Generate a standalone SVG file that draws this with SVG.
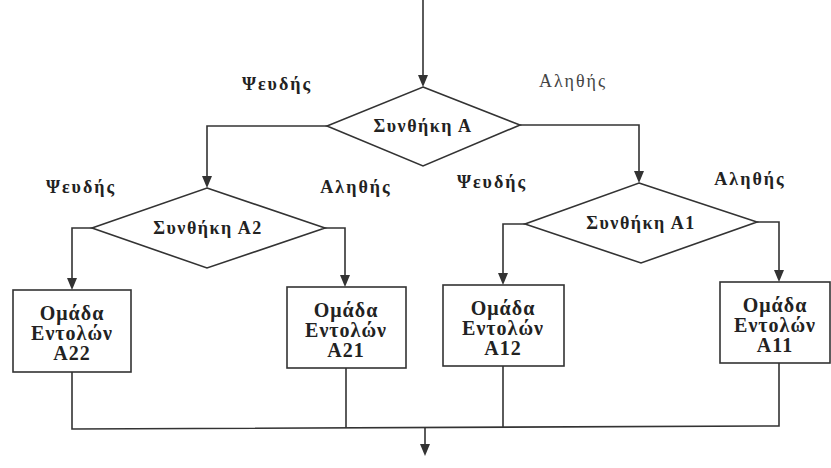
<svg xmlns="http://www.w3.org/2000/svg" width="831" height="468" viewBox="0 0 831 468">
<style>
.ln{fill:none;stroke:#333;stroke-width:1.6}
.shp{fill:#fff;stroke:#333;stroke-width:1.6}
.ah{fill:#333}
text{font-family:"Liberation Serif","Times New Roman",serif;fill:#222;text-anchor:middle}
.lbl{font-size:18px;font-weight:bold;letter-spacing:2px}
.lt{font-size:18px;letter-spacing:2px;fill:#444}
.cond{font-size:18px;font-weight:bold;letter-spacing:1.5px}
.box{font-size:20px;font-weight:bold;letter-spacing:1px}
</style>
<rect width="831" height="468" fill="#fff"/>
<g id="connectors">
<line class="ln" x1="423" y1="0" x2="423" y2="80"/>
<polyline class="ln" points="327,126 207,126 207,180"/>
<polyline class="ln" points="520,125 639,125 639,175"/>
<polyline class="ln" points="92,228 72,228 72,282"/>
<polyline class="ln" points="325,228 345,228 345,279"/>
<polyline class="ln" points="525,224 503,224 503,277"/>
<polyline class="ln" points="757,222 779,222 779,274"/>
<polyline class="ln" points="72,372 72,429 779,426 779,363"/>
<line class="ln" x1="346" y1="368" x2="346" y2="428"/>
<line class="ln" x1="503" y1="366" x2="503" y2="427"/>
<line class="ln" x1="425" y1="427" x2="425" y2="448"/>
<path class="ah" d="M418,75 L428,75 L423,87 Z"/>
<path class="ah" d="M202,176 L212,176 L207,188 Z"/>
<path class="ah" d="M634,171 L644,171 L639,183 Z"/>
<path class="ah" d="M67,278 L77,278 L72,290 Z"/>
<path class="ah" d="M340,275 L350,275 L345,287 Z"/>
<path class="ah" d="M498,273 L508,273 L503,285 Z"/>
<path class="ah" d="M774,270 L784,270 L779,282 Z"/>
<path class="ah" d="M420,444 L430,444 L425,456 Z"/>
<text class="lbl" x="277" y="90">Ψευδής</text>
<text class="lt" x="573" y="87">Αληθής</text>
<text class="lbl" x="81" y="193">Ψευδής</text>
<text class="lbl" x="356" y="193">Αληθής</text>
<text class="lbl" x="492" y="188">Ψευδής</text>
<text class="lbl" x="750" y="185">Αληθής</text>
</g>
<g id="condA">
<polygon class="shp" points="423,87 520,125 423,166 327,126"/>
<text class="cond" x="423" y="132">Συνθήκη Α</text>
</g>
<g id="condA2">
<polygon class="shp" points="207,188 325,228 207,268 92,228"/>
<text class="cond" x="208" y="234">Συνθήκη Α2</text>
</g>
<g id="condA1">
<polygon class="shp" points="639,183 757,222 641,263 525,224"/>
<text class="cond" x="641" y="229">Συνθήκη Α1</text>
</g>
<g id="boxA22">
<rect class="shp" x="13" y="290" width="118" height="82"/>
<text class="box" x="72" y="320">Ομάδα</text>
<text class="box" x="72" y="340">Εντολών</text>
<text class="box" x="72" y="360">Α22</text>
</g>
<g id="boxA21">
<rect class="shp" x="287" y="287" width="119" height="81"/>
<text class="box" x="346" y="317">Ομάδα</text>
<text class="box" x="346" y="337">Εντολών</text>
<text class="box" x="346" y="357">Α21</text>
</g>
<g id="boxA12">
<rect class="shp" x="443" y="285" width="121" height="81"/>
<text class="box" x="503" y="315">Ομάδα</text>
<text class="box" x="503" y="335">Εντολών</text>
<text class="box" x="503" y="355">Α12</text>
</g>
<g id="boxA11">
<rect class="shp" x="720" y="282" width="110" height="81"/>
<text class="box" x="775" y="312">Ομάδα</text>
<text class="box" x="775" y="332">Εντολών</text>
<text class="box" x="775" y="352">Α11</text>
</g>
</svg>
